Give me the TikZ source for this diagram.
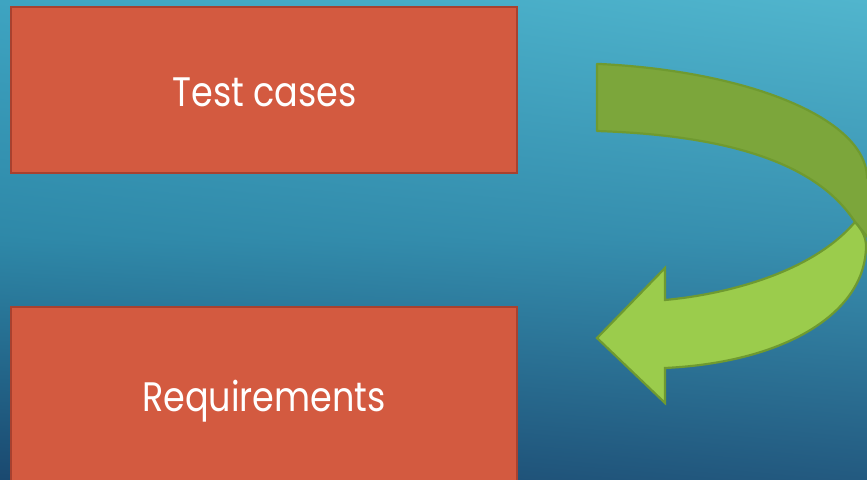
\documentclass[tikz,border=0pt]{standalone}
\usepackage{fontspec}
\usetikzlibrary{shadings}
\newfontfamily\boxfont[FakeStretch=0.85]{Poppins}
\definecolor{boxfill}{HTML}{D35A40}
\definecolor{boxline}{HTML}{A8412F}
\definecolor{darkgreen}{HTML}{7CA63B}
\definecolor{lightgreen}{HTML}{9BCC4C}
\definecolor{arrowline}{HTML}{6F9A30}
\definecolor{bgA}{HTML}{3EA4C1}
\definecolor{bgB}{HTML}{51B5CD}
\definecolor{bgC}{HTML}{2E88A8}
\definecolor{bgD}{HTML}{3890B0}
\definecolor{bgE}{HTML}{1A4970}
\definecolor{bgF}{HTML}{235A80}
\tikzset{
  redbox/.style={draw=boxline, fill=boxfill, line width=2.6pt, rectangle,
    minimum width=506pt, inner sep=0pt},
  boxlabel/.style={text=white, inner sep=0pt,
    font=\boxfont\fontsize{41.2}{44}\selectfont},
  bandback/.style={fill=darkgreen, draw=arrowline, line width=2.2pt, line join=round},
  bandfront/.style={fill=lightgreen, draw=arrowline, line width=2.2pt, line join=miter},
}
\begin{document}
\begin{tikzpicture}[x=1pt,y=-1pt]
\useasboundingbox (0,0) rectangle (867,479);
\clip (0,0) rectangle (867,479);
% background
\shade[upper left=bgA, upper right=bgB, lower left=bgC, lower right=bgD] (0,0) rectangle (867,240);
\shade[upper left=bgC, upper right=bgD, lower left=bgE, lower right=bgF] (0,239.5) rectangle (867,479);
% boxes
\node[redbox, minimum height=166pt] (tc) at (264,90) {};
\node[boxlabel] (tctext) at (264.5,92.5) {Test cases};
\node[redbox, minimum height=183pt] (rq) at (264,398.5) {};
\node[boxlabel] (rqtext) at (264,401.5) {Requirements};
% curved arrow: back band
\path[bandback] (597,64) -- plot[domain=83:0, samples=40, variable=\t] ({560+307*cos(\t)},{178-115*sin(\t)})
  -- (870,178) -- (870,240) -- (855,222)
  .. controls (815,160) and (720,135) .. (597,131) -- cycle;
% curved arrow: front band with head
\coordinate (cross) at (855,222);
\path[bandfront] (cross) .. controls (861,229) and (866,236) .. (866,246)
  .. controls (866,310) and (790,362) .. (665,368)
  -- (665,403) -- (597,338) -- (665,268) -- (665,300)
  .. controls (720,295) and (810,275) .. (cross) -- cycle;
\end{tikzpicture}
\end{document}
